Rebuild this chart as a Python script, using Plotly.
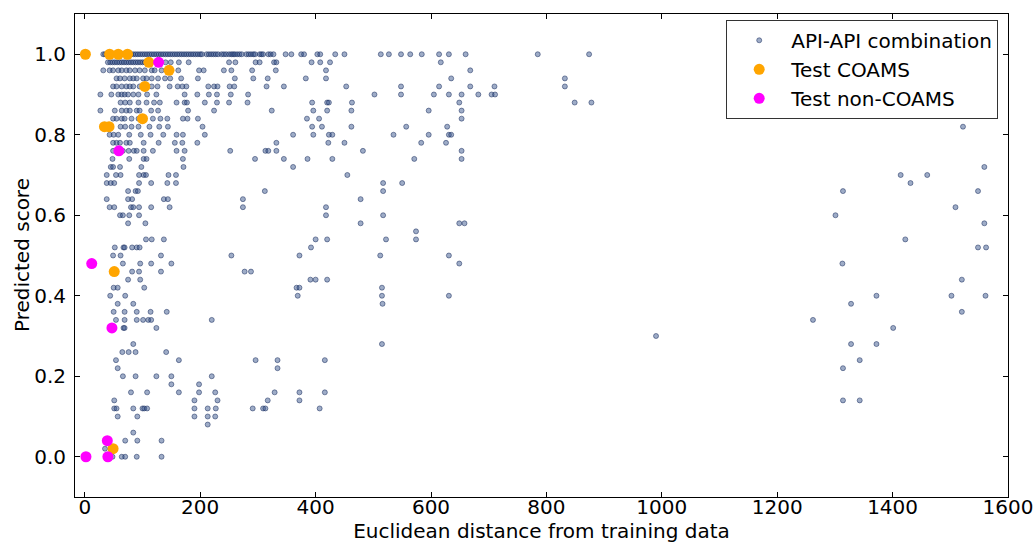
import plotly.graph_objects as go

# Predicted score levels (rows) and the Euclidean distances of API-API combinations at each level
score_levels = [1.00, 0.98, 0.96, 0.94, 0.92, 0.90, 0.88, 0.86, 0.84, 0.82, 0.80,
                0.78, 0.76, 0.74, 0.72, 0.70, 0.68, 0.66, 0.64, 0.62, 0.60, 0.58,
                0.56, 0.54, 0.52, 0.50, 0.48, 0.46, 0.44, 0.42, 0.40, 0.38, 0.36,
                0.34, 0.32, 0.30, 0.28, 0.26, 0.24, 0.22, 0.20, 0.18, 0.16, 0.14,
                0.12, 0.10, 0.08, 0.06, 0.04, 0.02, 0.00]

distances_per_level = [
    [32, 35, 38, 41, 44, 47, 50, 53, 56, 59, 62, 65, 68, 71, 74, 77, 80, 84, 88, 92, 96, 100,
     104, 108, 112, 116, 120, 124, 128, 132, 136, 140, 144, 148, 152, 156, 160, 164, 168, 172,
     176, 180, 184, 188, 192, 196, 200, 203, 211, 215, 219, 223, 227, 231, 237, 241, 245, 250,
     254, 257, 260, 264, 268, 272, 280, 284, 288, 292, 295, 303, 306, 309, 318, 322, 327, 348,
     358, 375, 380, 403, 408, 434, 450, 513, 527, 548, 564, 584, 614, 631, 660, 785, 874],
    [40, 44, 48, 52, 56, 60, 64, 68, 72, 76, 80, 84, 88, 92, 96, 100, 104, 140, 149, 163, 180,
     250, 261, 296, 303, 328, 332, 393, 408, 425, 617],
    [32, 43, 49, 58, 64, 72, 78, 87, 95, 104, 116, 121, 133, 162, 198, 206, 241, 254, 290, 331,
     418, 668],
    [55, 61, 69, 78, 84, 90, 101, 107, 116, 127, 139, 148, 167, 196, 260, 292, 317, 383, 418,
     635, 832],
    [49, 55, 64, 72, 78, 84, 95, 116, 126, 147, 161, 169, 176, 214, 224, 230, 251, 259, 315, 345,
     453, 548, 614, 668, 710, 832],
    [27, 46, 58, 64, 69, 75, 84, 93, 108, 124, 173, 195, 215, 229, 253, 283, 502, 548, 605, 631,
     653, 682, 705, 711],
    [62, 70, 78, 93, 107, 120, 130, 159, 173, 177, 208, 229, 250, 282, 394, 420, 423, 463, 649,
     849, 878],
    [27, 52, 64, 72, 78, 90, 95, 115, 127, 179, 224, 324, 396, 420, 462, 596, 653],
    [49, 55, 64, 69, 81, 93, 118, 131, 143, 170, 178, 196, 385, 406, 653],
    [62, 70, 81, 93, 112, 129, 144, 204, 394, 411, 462, 557, 628, 1522],
    [43, 50, 58, 77, 97, 114, 136, 159, 170, 208, 361, 396, 423, 429, 535, 596, 631, 635],
    [49, 55, 61, 72, 78, 102, 128, 156, 169, 195, 332, 422, 450, 583, 626],
    [49, 66, 76, 85, 90, 102, 118, 159, 173, 252, 313, 318, 332, 482, 653],
    [48, 77, 102, 107, 170, 295, 345, 386, 429, 571, 653],
    [45, 49, 61, 98, 171, 361, 1559],
    [38, 54, 62, 94, 102, 106, 145, 158, 455, 1414, 1460],
    [38, 45, 51, 94, 115, 143, 158, 517, 550, 1431],
    [75, 88, 92, 312, 517, 1314, 1548],
    [38, 75, 82, 137, 144, 274, 478],
    [43, 51, 80, 84, 94, 115, 147, 274, 418, 1509],
    [61, 66, 77, 94, 418, 517, 1301],
    [75, 105, 478, 649, 658, 1559],
    [574],
    [106, 116, 137, 400, 420, 522, 574, 1422],
    [52, 67, 69, 82, 90, 95, 392, 1548, 1562],
    [49, 62, 132, 254, 372, 512, 631],
    [66, 96, 115, 150, 649, 1313],
    [82, 94, 132, 277, 288],
    [75, 96, 391, 400, 420, 1520],
    [50, 57, 103, 367, 372, 515],
    [44, 70, 369, 515, 631, 1372, 1502, 1561],
    [57, 84, 516, 1328],
    [50, 69, 90, 114, 142, 1520],
    [54, 69, 90, 101, 110, 115, 220, 1262],
    [67, 69, 124, 1401],
    [990],
    [84, 515, 1328, 1372],
    [65, 76, 88, 141],
    [54, 163, 296, 334, 416, 1343],
    [57, 334, 1314],
    [66, 88, 124, 150, 220],
    [150, 198],
    [80, 108, 163, 198, 226, 329, 372, 416],
    [51, 190, 230, 317, 372, 1314, 1343],
    [51, 55, 84, 100, 103, 108, 190, 213, 227, 291, 309, 313, 407],
    [57, 91, 190, 213, 226],
    [213],
    [84],
    [70, 91, 133],
    [35],
    [48, 64, 70, 90, 133],
]

coams_x = [1, 43, 58, 74, 111, 146, 104, 100, 34, 42, 51, 49]
coams_y = [1.00, 1.00, 1.00, 1.00, 0.98, 0.96, 0.92, 0.84, 0.82, 0.82, 0.46, 0.02]

noncoams_x = [128, 59, 12, 47, 39, 2, 40]
noncoams_y = [0.98, 0.76, 0.48, 0.32, 0.04, 0.00, 0.00]

x_ticks = [0, 200, 400, 600, 800, 1000, 1200, 1400, 1600]
y_ticks = [0.0, 0.2, 0.4, 0.6, 0.8, 1.0]

api_x, api_y = [], []
for s, xs in zip(score_levels, distances_per_level):
    api_x.extend(xs)
    api_y.extend([s] * len(xs))

FONT = "DejaVu Sans"

fig = go.Figure()
fig.add_trace(go.Scatter(
    x=api_x, y=api_y, mode="markers", name="API-API combination",
    marker=dict(size=5, color="rgba(40,70,130,0.45)",
                line=dict(color="rgba(20,40,90,0.5)", width=1)),
))
fig.add_trace(go.Scatter(
    x=coams_x, y=coams_y, mode="markers", name="Test COAMS",
    marker=dict(size=11, color="#FFA500", line=dict(width=0)),
))
fig.add_trace(go.Scatter(
    x=noncoams_x, y=noncoams_y, mode="markers", name="Test non-COAMS",
    marker=dict(size=11, color="#FF00FF", line=dict(width=0)),
))

axis_common = dict(
    showline=True, linecolor="black", linewidth=1, mirror="ticks",
    ticks="inside", ticklen=5, tickcolor="black", tickwidth=1,
    showgrid=False, zeroline=False, automargin=False,
    tickfont=dict(family=FONT, size=20, color="black"),
)

fig.update_xaxes(range=[-17, 1600], tickvals=x_ticks, ticklabelstandoff=-8,
                 title=dict(text="Euclidean distance from training data",
                            font=dict(family=FONT, size=20, color="black"), standoff=4),
                 **axis_common)
fig.update_yaxes(range=[-0.1, 1.1], tickvals=y_ticks, tickformat=".1f", ticklabelstandoff=4,
                 **axis_common)

fig.add_annotation(text="Predicted score", xref="paper", yref="paper",
                   x=-0.0568, y=0.501, xanchor="center", yanchor="middle",
                   textangle=-90, showarrow=False,
                   font=dict(family=FONT, size=20, color="black"))

fig.update_layout(
    width=1035, height=544,
    margin=dict(l=75, r=27, t=14, b=47),
    paper_bgcolor="white", plot_bgcolor="white",
    font=dict(family=FONT, size=20, color="black"),
    legend=dict(x=0.9895, y=0.988, xanchor="right", yanchor="top",
                bgcolor="white", bordercolor="#333333", borderwidth=1,
                font=dict(family=FONT, size=20, color="black"),
                itemwidth=54),
    showlegend=True,
)

fig.write_html("out.html")
